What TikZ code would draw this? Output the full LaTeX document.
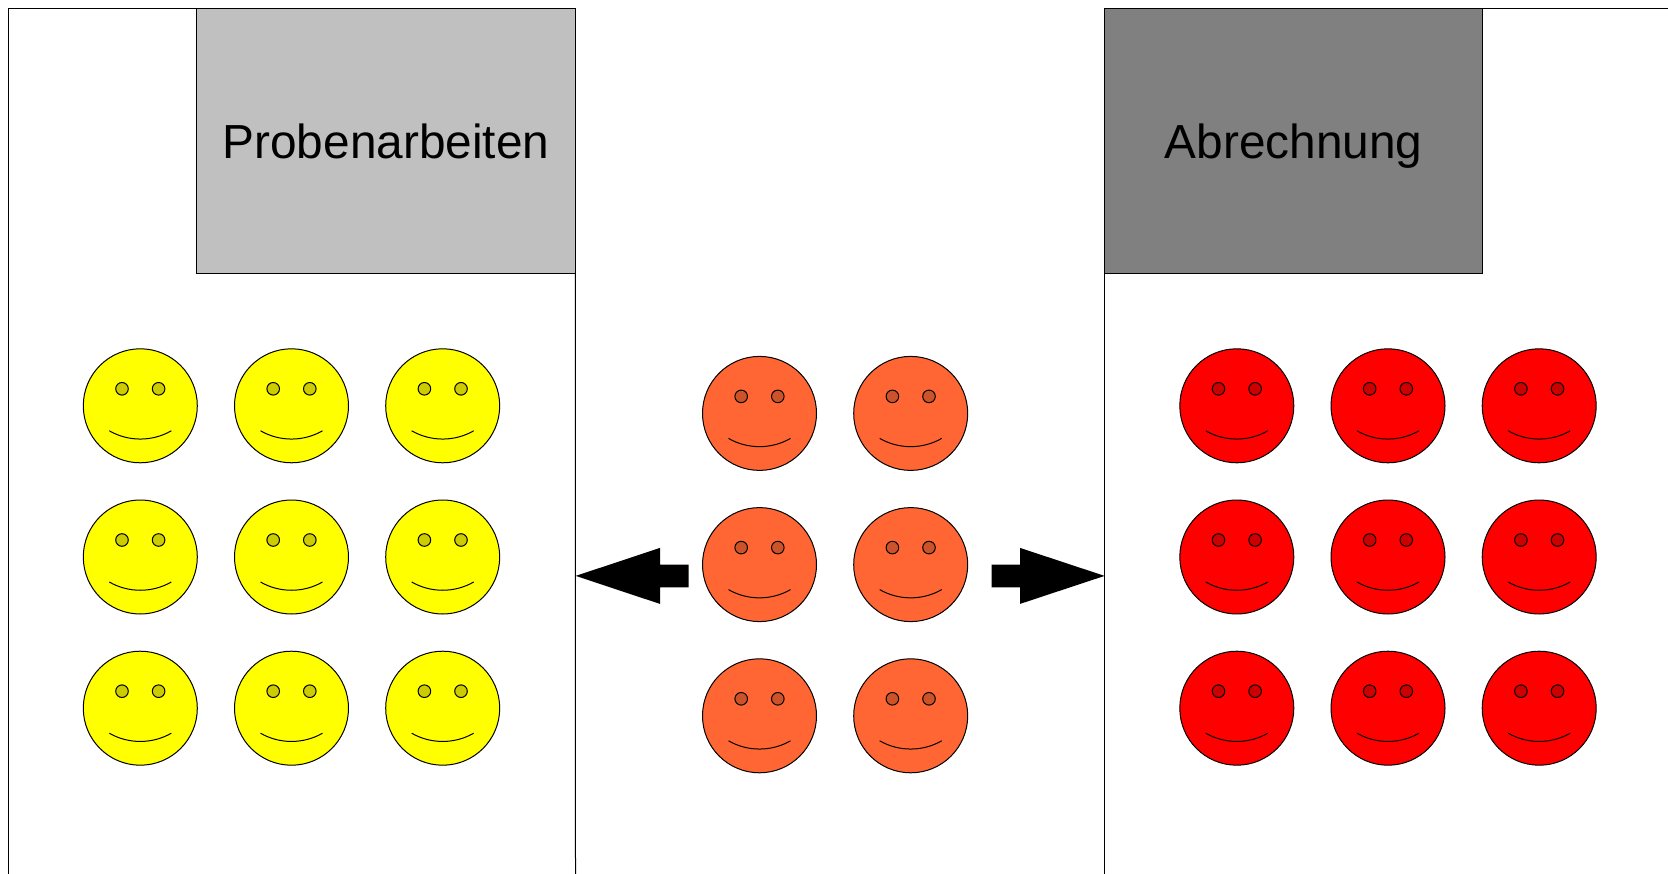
\documentclass[tikz,border=0pt]{standalone}
\usepackage{fontspec}
\setmainfont{Liberation Sans}
\definecolor{faceyellow}{HTML}{FFFF00}
\definecolor{facered}{HTML}{FF0000}
\definecolor{faceorange}{HTML}{FF6633}
\definecolor{eyeyellow}{HTML}{CCCC00}
\definecolor{eyeorange}{HTML}{CC5229}
\definecolor{eyered}{HTML}{CC0000}
\definecolor{lightbox}{HTML}{C0C0C0}
\definecolor{darkbox}{HTML}{808080}
\tikzset{
  box/.style={draw,line width=1pt,inner sep=0pt,outer sep=0pt,minimum width=#1,minimum height=265.5pt,text height=34.8pt,text depth=0.7pt,font=\fontsize{47.8pt}{57pt}\selectfont},
  pics/smiley/.style n args={2}{code={
    \draw[line width=1pt,fill=#1] (0,0) circle (57pt);
    \draw[line width=1pt,fill=#2] (-18.3,-17) circle (6.3pt);
    \draw[line width=1pt,fill=#2] (18.3,-17) circle (6.3pt);
    \draw[line width=1pt] (-31,25) .. controls (-12,36) and (12,36) .. (31,25);
  }}
}
\begin{document}
\begin{tikzpicture}[x=1pt,y=-1pt]
\useasboundingbox (0,-0.6) rectangle (1668,873.4);
\node[box=378.5pt,fill=lightbox] (probe) at (386,140.4) {Probenarbeiten};
\node[box=378pt,fill=darkbox] (abr) at (1293.6,140.4) {Abrechnung};
\draw[line width=1pt] (8.2,874) -- (8.2,7.65) -- (probe.north west);
\draw[line width=1pt] (probe.south east) -- (575.5,874);
\draw[line width=1pt] (abr.south west) -- (1104.6,874);
\draw[line width=1pt] (abr.north east) -- (1668,7.65);
% yellow group
\foreach \y [count=\r] in {405.2,556.4,707.6}
  \foreach \x [count=\c] in {140.3,291.5,442.7}
    \pic (y\r\c) at (\x,\y) {smiley={faceyellow}{eyeyellow}};
% orange group
\foreach \y [count=\r] in {412.8,564,715.2}
  \foreach \x [count=\c] in {759.5,910.7}
    \pic (o\r\c) at (\x,\y) {smiley={faceorange}{eyeorange}};
% red group
\foreach \y [count=\r] in {405.2,556.4,707.6}
  \foreach \x [count=\c] in {1236.8,1388,1539.2}
    \pic (r\r\c) at (\x,\y) {smiley={facered}{eyered}};
% arrows
\fill (575.7,575.3) -- (660,547.3) -- (660,564) -- (688.7,564) -- (688.7,586.7) -- (660,586.7) -- (660,603.3) -- cycle;
\fill (1104.6,575.3) -- (1020,547.3) -- (1020,564) -- (991.5,564) -- (991.5,586.7) -- (1020,586.7) -- (1020,603.3) -- cycle;
\end{tikzpicture}
\end{document}
